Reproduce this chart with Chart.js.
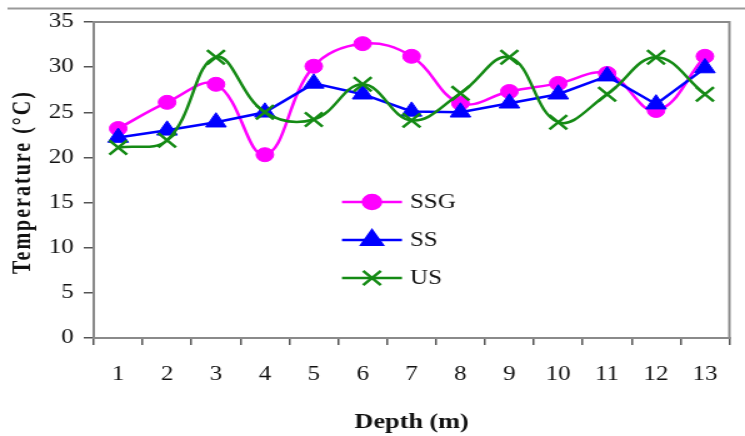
<!DOCTYPE html>
<html>
<head>
<meta charset="utf-8">
<script src="https://cdn.jsdelivr.net/npm/chart.js@4.4.1/dist/chart.umd.min.js"></script>
<style>
  html, body { margin: 0; padding: 0; background: #fff; overflow: hidden; }
  /* the reference is drawn a bit wider than tall, so stretch the whole chart */
  #wrap { width: 596px; height: 436px; transform: scaleX(1.25); transform-origin: 0 0; }
</style>
</head>
<body>
<div id="wrap"><canvas id="chart"></canvas></div>
<script>
const depths = ['1', '2', '3', '4', '5', '6', '7', '8', '9', '10', '11', '12', '13']
const ssg = [23.2, 26.1, 28.1, 20.3, 30.1, 32.6, 31.2, 26.0, 27.3, 28.2, 29.3, 25.2, 31.2]
const ss = [22.2, 23.0, 23.9, 25.0, 28.2, 27.0, 25.1, 25.0, 26.0, 27.0, 29.0, 25.9, 29.9]
const us = [21.1, 21.9, 31.1, 25.0, 24.2, 28.1, 24.1, 27.1, 31.1, 23.9, 27.0, 31.1, 27.0]
const seriesNames = ['SSG', 'SS', 'US']
const yMin = 0
const yMax = 35
const yStep = 5

const serif = '"Liberation Serif", "Times New Roman", serif'
Chart.defaults.font.family = serif
Chart.defaults.color = '#111'

// frame line above the chart + grey box round the plot
const frame = {
  id: 'frame',
  beforeDraw(chart) {
    const ctx = chart.ctx
    ctx.save()
    ctx.strokeStyle = '#9a9a9a'
    ctx.lineWidth = 2
    ctx.beginPath()
    ctx.moveTo(6, 8.5)
    ctx.lineTo(chart.width, 8.5)
    ctx.stroke()
    ctx.restore()
  },
  beforeDatasetsDraw(chart) {
    const { ctx, chartArea: a } = chart
    ctx.save()
    ctx.strokeStyle = '#8a8a8a'
    ctx.lineWidth = 2
    ctx.strokeRect(a.left, a.top, a.right - a.left, a.bottom - a.top)
    ctx.restore()
  }
}

// y title with the spread-out lettering of the original
const yTitle = {
  id: 'yTitle',
  afterDraw(chart) {
    const { ctx, chartArea: a } = chart
    ctx.save()
    ctx.translate(19, (a.top + a.bottom) / 2 + 2)
    ctx.rotate(-Math.PI / 2)
    ctx.font = 'bold 20px ' + serif
    ctx.letterSpacing = '2px'
    ctx.fillStyle = '#111'
    ctx.textAlign = 'center'
    ctx.textBaseline = 'middle'
    ctx.fillText('Temperature (°C)', 0, 0)
    ctx.restore()
  }
}

// legend sitting inside the plot
const innerLegend = {
  id: 'innerLegend',
  afterDraw(chart) {
    const ctx = chart.ctx
    const rows = [202, 240, 278]
    ctx.save()
    chart.data.datasets.forEach((ds, i) => {
      const y = rows[i]
      ctx.strokeStyle = ds.borderColor
      ctx.lineWidth = ds.borderWidth
      ctx.beginPath()
      ctx.moveTo(273.6, y)
      ctx.lineTo(321.6, y)
      ctx.stroke()
      ctx.fillStyle = ds.pointBackgroundColor
      ctx.strokeStyle = ds.pointBorderColor
      Chart.helpers.drawPoint(ctx, {
        pointStyle: ds.pointStyle,
        radius: ds.pointRadius,
        borderWidth: ds.pointBorderWidth,
        rotation: 0
      }, 297.6, y)
      ctx.fillStyle = '#111'
      ctx.font = '20px ' + serif
      ctx.textAlign = 'left'
      ctx.textBaseline = 'middle'
      ctx.fillText(seriesNames[i], 328, y + 1)
    })
    ctx.restore()
  }
}

new Chart(document.getElementById('chart'), {
  type: 'line',
  data: {
    labels: depths,
    datasets: [
      {
        label: seriesNames[0],
        data: ssg,
        borderColor: '#ff00ff',
        borderWidth: 2.5,
        tension: 0.4,
        pointStyle: 'circle',
        pointRadius: 7,
        pointBackgroundColor: '#ff00ff',
        pointBorderColor: '#ff00ff',
        pointBorderWidth: 1,
        order: 2
      },
      {
        label: seriesNames[1],
        data: ss,
        borderColor: '#0000ff',
        borderWidth: 2.5,
        tension: 0,
        pointStyle: 'triangle',
        pointRadius: 9.5,
        pointBackgroundColor: '#0000ff',
        pointBorderColor: '#0000ff',
        pointBorderWidth: 1,
        order: 1
      },
      {
        label: seriesNames[2],
        data: us,
        borderColor: '#148a14',
        borderWidth: 2.5,
        tension: 0.4,
        pointStyle: 'crossRot',
        pointRadius: 10,
        pointBackgroundColor: '#148a14',
        pointBorderColor: '#148a14',
        pointBorderWidth: 2.5,
        order: 0
      }
    ]
  },
  options: {
    responsive: true,
    maintainAspectRatio: false,
    animation: false,
    layout: {
      padding: { top: 22, right: 1.6, left: 0, bottom: 0 }
    },
    plugins: {
      legend: { display: false },
      tooltip: { enabled: false }
    },
    scales: {
      x: {
        offset: true,
        afterFit: (scale) => { scale.height = 98 },
        grid: {
          offset: true,
          drawOnChartArea: false,
          tickLength: 7,
          color: '#555',
          lineWidth: 1.5
        },
        border: { color: '#444', width: 2 },
        ticks: {
          maxRotation: 0,
          autoSkip: false,
          padding: 18,
          font: { size: 20 }
        },
        title: {
          display: true,
          text: 'Depth (m)',
          font: { size: 21, weight: 'bold' },
          padding: { top: 0, bottom: 1 }
        }
      },
      y: {
        min: yMin,
        max: yMax,
        afterFit: (scale) => { scale.width = 75 },
        grid: {
          drawOnChartArea: false,
          tickLength: 8,
          color: '#555',
          lineWidth: 1.5
        },
        border: { color: '#444', width: 2 },
        ticks: {
          stepSize: yStep,
          padding: 8,
          font: { size: 20 }
        }
      }
    }
  },
  plugins: [frame, yTitle, innerLegend]
})
</script>
</body>
</html>
